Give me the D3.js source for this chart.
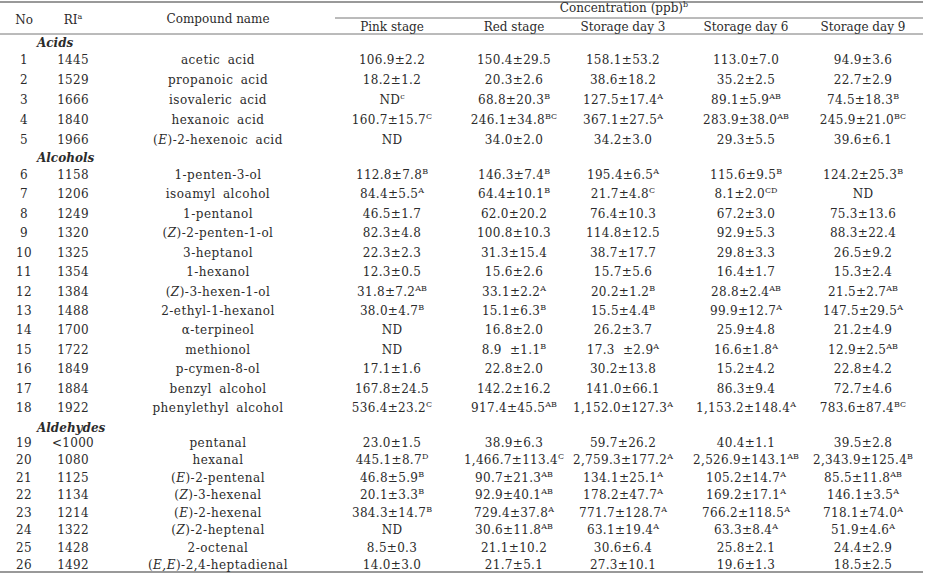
<!DOCTYPE html>
<html>
<head>
<meta charset="utf-8">
<script src="https://cdn.jsdelivr.net/npm/d3@7"></script>
<style>
body { margin: 0; background: #fff; }
text { font-family: "DejaVu Serif", serif; font-size: 12px; fill: #2b2b2b; white-space: pre; }
.num { letter-spacing: 0.3px; }
.name { letter-spacing: 0.5px; word-spacing: 3px; }
</style>
</head>
<body>
<svg id="table" width="932" height="575"></svg>
<script>
// table content
var groups = ["Acids", "Alcohols", "Aldehydes"]
var groupOf = ["Acids","Acids","Acids","Acids","Acids",
  "Alcohols","Alcohols","Alcohols","Alcohols","Alcohols","Alcohols","Alcohols","Alcohols","Alcohols","Alcohols","Alcohols","Alcohols","Alcohols",
  "Aldehydes","Aldehydes","Aldehydes","Aldehydes","Aldehydes","Aldehydes","Aldehydes","Aldehydes"]
var nos = ["1","2","3","4","5","6","7","8","9","10","11","12","13","14","15","16","17","18","19","20","21","22","23","24","25","26"]
var ris = ["1445","1529","1666","1840","1966","1158","1206","1249","1320","1325","1354","1384","1488","1700","1722","1849","1884","1922",
  "<1000","1080","1125","1134","1214","1322","1428","1492"]
// _X_ marks italic parts
var compounds = ["acetic acid","propanoic acid","isovaleric acid","hexanoic acid","(_E_)-2-hexenoic acid",
  "1-penten-3-ol","isoamyl alcohol","1-pentanol","(_Z_)-2-penten-1-ol","3-heptanol","1-hexanol","(_Z_)-3-hexen-1-ol",
  "2-ethyl-1-hexanol","α-terpineol","methionol","p-cymen-8-ol","benzyl alcohol","phenylethyl alcohol",
  "pentanal","hexanal","(_E_)-2-pentenal","(_Z_)-3-hexenal","(_E_)-2-hexenal","(_Z_)-2-heptenal","2-octenal","(_E,E_)-2,4-heptadienal"]

var stageLabels = ["Pink stage", "Red stage", "Storage day 3", "Storage day 6", "Storage day 9"]

// value^superscript
var pinkStage = ["106.9±2.2","18.2±1.2","ND^c","160.7±15.7^C","ND",
  "112.8±7.8^B","84.4±5.5^A","46.5±1.7","82.3±4.8","22.3±2.3","12.3±0.5","31.8±7.2^AB","38.0±4.7^B","ND","ND","17.1±1.6","167.8±24.5","536.4±23.2^C",
  "23.0±1.5","445.1±8.7^D","46.8±5.9^B","20.1±3.3^B","384.3±14.7^B","ND","8.5±0.3","14.0±3.0"]
var redStage = ["150.4±29.5","20.3±2.6","68.8±20.3^B","246.1±34.8^BC","34.0±2.0",
  "146.3±7.4^B","64.4±10.1^B","62.0±20.2","100.8±10.3","31.3±15.4","15.6±2.6","33.1±2.2^A","15.1±6.3^B","16.8±2.0","8.9  ±1.1^B","22.8±2.0","142.2±16.2","917.4±45.5^AB",
  "38.9±6.3","1,466.7±113.4^C","90.7±21.3^AB","92.9±40.1^AB","729.4±37.8^A","30.6±11.8^AB","21.1±10.2","21.7±5.1"]
var storageDay3 = ["158.1±53.2","38.6±18.2","127.5±17.4^A","367.1±27.5^A","34.2±3.0",
  "195.4±6.5^A","21.7±4.8^C","76.4±10.3","114.8±12.5","38.7±17.7","15.7±5.6","20.2±1.2^B","15.5±4.4^B","26.2±3.7","17.3  ±2.9^A","30.2±13.8","141.0±66.1","1,152.0±127.3^A",
  "59.7±26.2","2,759.3±177.2^A","134.1±25.1^A","178.2±47.7^A","771.7±128.7^A","63.1±19.4^A","30.6±6.4","27.3±10.1"]
var storageDay6 = ["113.0±7.0","35.2±2.5","89.1±5.9^AB","283.9±38.0^AB","29.3±5.5",
  "115.6±9.5^B","8.1±2.0^CD","67.2±3.0","92.9±5.3","29.8±3.3","16.4±1.7","28.8±2.4^AB","99.9±12.7^A","25.9±4.8","16.6±1.8^A","15.2±4.2","86.3±9.4","1,153.2±148.4^A",
  "40.4±1.1","2,526.9±143.1^AB","105.2±14.7^A","169.2±17.1^A","766.2±118.5^A","63.3±8.4^A","25.8±2.1","19.6±1.3"]
var storageDay9 = ["94.9±3.6","22.7±2.9","74.5±18.3^B","245.9±21.0^BC","39.6±6.1",
  "124.2±25.3^B","ND","75.3±13.6","88.3±22.4","26.5±9.2","15.3±2.4","21.5±2.7^AB","147.5±29.5^A","21.2±4.9","12.9±2.5^AB","22.8±4.2","72.7±4.6","783.6±87.4^BC",
  "39.5±2.8","2,343.9±125.4^B","85.5±11.8^AB","146.1±3.5^A","718.1±74.0^A","51.9±4.6^A","24.4±2.9","18.5±2.5"]

var stageSeries = [pinkStage, redStage, storageDay3, storageDay6, storageDay9]

var svg = d3.select("#table")

// column centres
var cols = ["no", "ri", "name", "s0", "s1", "s2", "s3", "s4"]
var x = d3.scaleOrdinal().domain(cols).range([24, 73, 218, 392, 514, 623, 746, 863])

// body lines: group label, then its rows (spacing differs per block in the original)
var lines = []
groups.forEach(function(g) {
  lines.push({group: g})
  groupOf.forEach(function(gg, i) { if (gg == g) lines.push({row: i}) })
})
var y = d3.scaleLinear()
  .domain([0, 1, 5, 6, 7, 19, 20, 21, 28])
  .range([43, 59.5, 139.5, 158, 175, 408, 428, 443, 565])

// rules
svg.append("line").attr("x1", 0).attr("x2", 923).attr("y1", 2).attr("y2", 2).attr("stroke", "#777").attr("stroke-width", 1.5)
svg.append("line").attr("x1", 335).attr("x2", 923).attr("y1", 18).attr("y2", 18).attr("stroke", "#777").attr("stroke-width", 1)
svg.append("line").attr("x1", 0).attr("x2", 923).attr("y1", 34).attr("y2", 34).attr("stroke", "#777").attr("stroke-width", 1)
svg.append("line").attr("x1", 0).attr("x2", 923).attr("y1", 572).attr("y2", 572).attr("stroke", "#777").attr("stroke-width", 1.5)

// draws "base^sup" centred at cx
function cell(cx, cy, s, cls) {
  var parts = s.split("^")
  var t = svg.append("text").attr("x", cx).attr("y", cy + 4).attr("text-anchor", "middle").attr("class", cls || null)
  t.append("tspan").text(parts[0])
  if (parts[1]) t.append("tspan").attr("dy", -5).style("font-size", "8px").style("letter-spacing", "0px").text(parts[1])
  return t
}

// header
cell(x("no"), 20, "No")
cell(x("ri"), 20, "RI^a")
cell(x("name"), 19, "Compound name")
cell(624, 8, "Concentration (ppb)^b")
stageLabels.forEach(function(l, j) { cell(x("s" + j), 27, l) })

// body
lines.forEach(function(d, k) {
  var cy = y(k)
  if (d.group) {
    svg.append("text").attr("x", 37).attr("y", cy + 4).text(d.group)
      .style("font-weight", "bold").style("font-style", "italic")
    return
  }
  var i = d.row
  cell(x("no"), cy, nos[i], "num")
  cell(x("ri"), cy, ris[i], "num")
  var t = svg.append("text").attr("x", x("name")).attr("y", cy + 4).attr("text-anchor", "middle").attr("class", "name")
  compounds[i].split("_").forEach(function(p, m) {
    if (p) t.append("tspan").text(p).style("font-style", m % 2 ? "italic" : "normal")
  })
  stageSeries.forEach(function(ser, j) { cell(x("s" + j), cy, ser[i], "num") })
})
</script>
</body>
</html>
